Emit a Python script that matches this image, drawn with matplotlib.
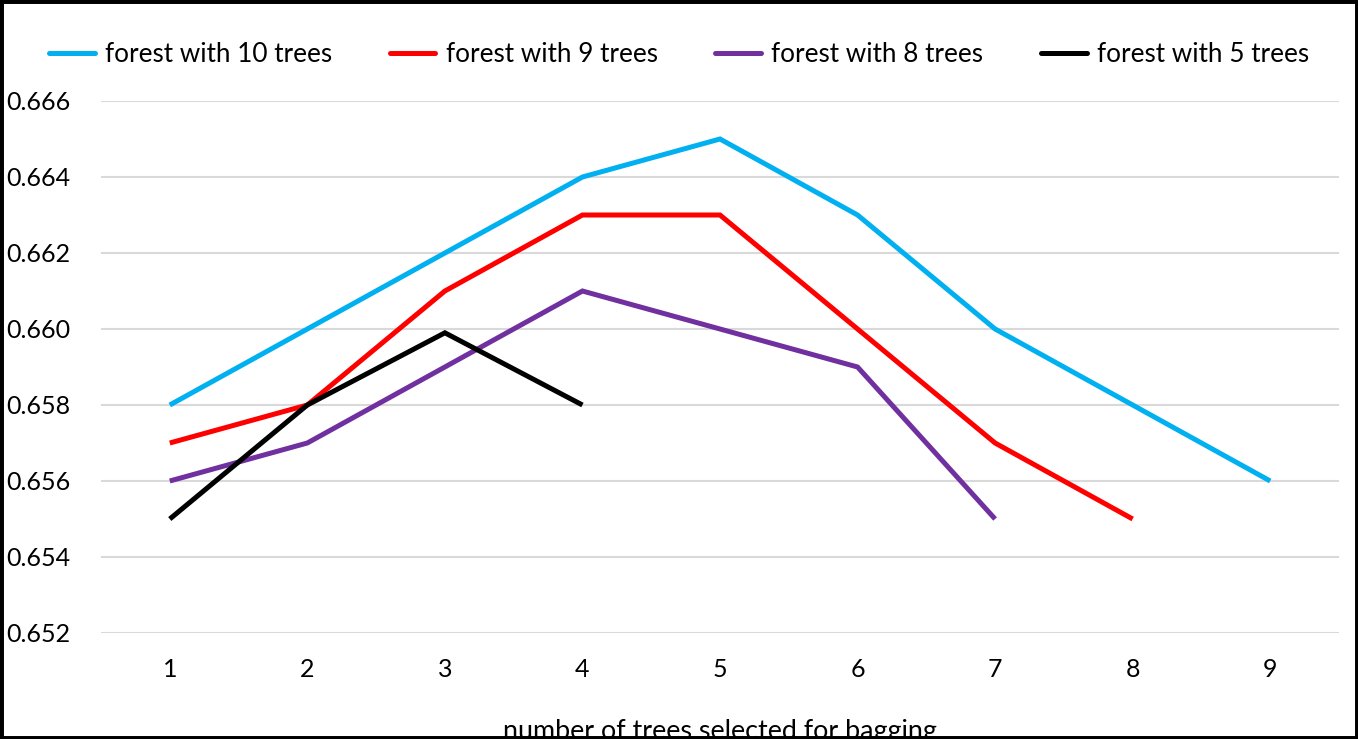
import matplotlib
matplotlib.use('Agg')
import matplotlib.pyplot as plt
from matplotlib.patches import Rectangle

plt.rcParams['font.family'] = ['Lato', 'DejaVu Sans']

# data
bagging_sizes = [1, 2, 3, 4, 5, 6, 7, 8, 9]
forest_10 = [0.658, 0.660, 0.662, 0.664, 0.665, 0.663, 0.660, 0.658, 0.656]
forest_9 = [0.657, 0.658, 0.661, 0.663, 0.663, 0.660, 0.657, 0.655]
forest_8 = [0.656, 0.657, 0.659, 0.661, 0.660, 0.659, 0.655]
forest_5 = [0.655, 0.658, 0.6599, 0.658]
series_labels = ['forest with 10 trees', 'forest with 9 trees',
                 'forest with 8 trees', 'forest with 5 trees']
y_ticks = [0.652, 0.654, 0.656, 0.658, 0.660, 0.662, 0.664, 0.666]

colors = ['#00B0F0', '#FF0000', '#7030A0', '#000000']

W, H = 1358, 739
fig = plt.figure(figsize=(W / 100, H / 100), dpi=100)
ax = fig.add_axes([101 / W, 1 - 633 / H, (1339 - 101) / W, (633 - 101) / H])

all_series = [forest_10, forest_9, forest_8, forest_5]
handles = []
for vals, lab, col in zip(all_series, series_labels, colors):
    h, = ax.plot(bagging_sizes[:len(vals)], vals, color=col, lw=3.6,
                 solid_capstyle='butt', solid_joinstyle='miter', label=lab, zorder=3)
    handles.append(h)

ax.set_xlim(0.5, 9.5)
ax.set_ylim(0.652, 0.666)
ax.set_yticks(y_ticks)
ax.set_yticklabels([f'{v:.3f}' for v in y_ticks])
ax.set_xticks(bagging_sizes)
ax.grid(axis='y', color='#D9D9D9', lw=1.5, zorder=0)
for s in ax.spines.values():
    s.set_visible(False)
ax.tick_params(length=0, labelsize=18, colors='black')
ax.tick_params(axis='y', pad=22)
ax.tick_params(axis='x', pad=18)

leg = fig.legend(handles=handles, loc='center', bbox_to_anchor=(0.5, 1 - 55 / H),
                 ncol=4, frameon=False, fontsize=18.8, handlelength=1.75,
                 handletextpad=0.4, columnspacing=2.2)
for lh in leg.get_lines():
    lh.set_solid_capstyle('round')

# axis title sits partly under the chart border, as in the original
fig.text(720 / W, 1 - 731 / H, 'number of trees selected for bagging',
         ha='center', va='center', fontsize=19.4)

# outer chart border
fig.patches.append(Rectangle((0, 0), 1, 1, transform=fig.transFigure,
                             fill=False, edgecolor='black', lw=5, zorder=10))

fig.savefig('out.png', dpi=100)
